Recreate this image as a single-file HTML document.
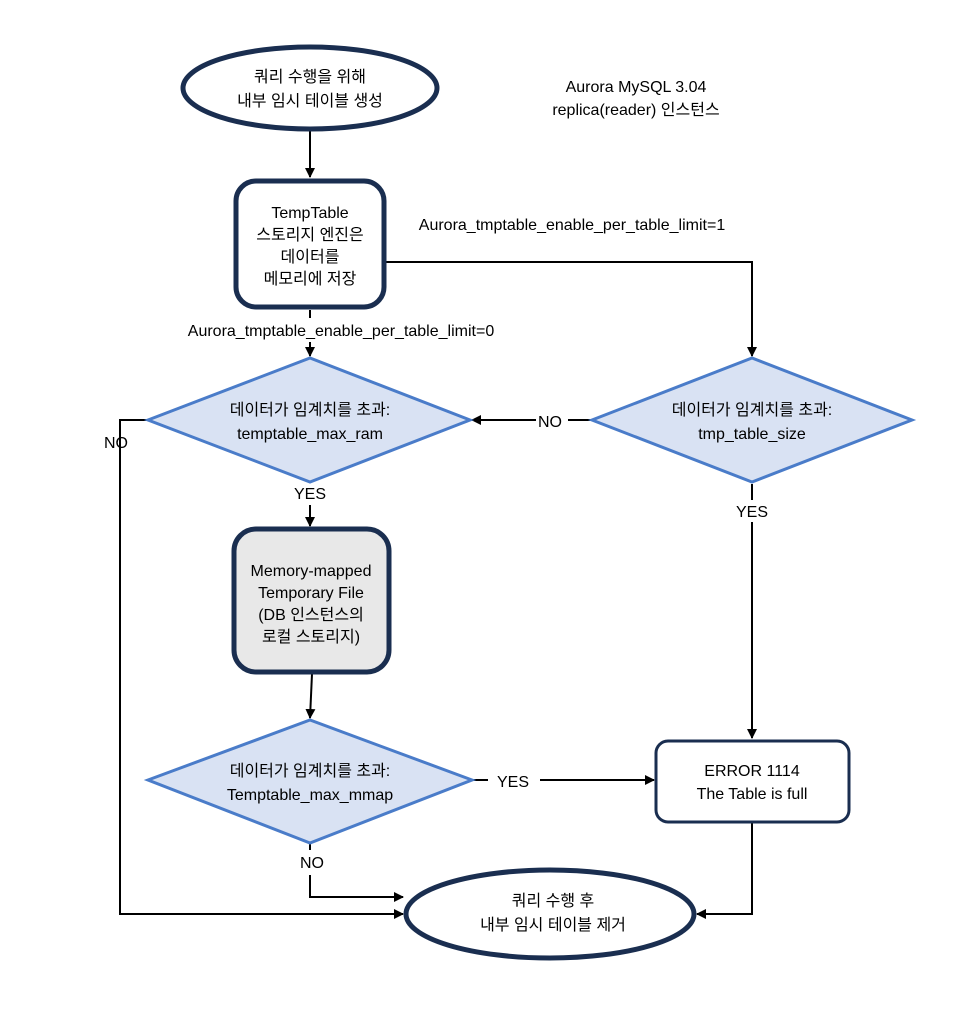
<!DOCTYPE html>
<html><head><meta charset="utf-8"><style>
html,body{margin:0;padding:0;background:#fff;}
svg text{font-family:"Liberation Sans","Noto Sans CJK KR",sans-serif;font-size:16px;fill:#000;}
</style></head><body>
<svg width="965" height="1024" viewBox="0 0 965 1024" xmlns="http://www.w3.org/2000/svg">
<defs>
<marker id="a" markerWidth="10" markerHeight="10" refX="9" refY="5" orient="auto" markerUnits="userSpaceOnUse">
<path d="M0,0 L10,5 L0,10 z" fill="#000"/></marker>
</defs>
<g fill="none" stroke="#000" stroke-width="2">
<line x1="310" y1="131" x2="310" y2="177" marker-end="url(#a)"/>
<polyline points="385,262 752,262 752,356" marker-end="url(#a)"/>
<line x1="310" y1="310" x2="310" y2="318"/>
<line x1="310" y1="342" x2="310" y2="356" marker-end="url(#a)"/>
<line x1="592" y1="420" x2="568" y2="420"/>
<line x1="536" y1="420" x2="472" y2="420" marker-end="url(#a)"/>
<polyline points="148,420 120,420 120,914 403,914" marker-end="url(#a)"/>
<line x1="310" y1="505" x2="310" y2="526" marker-end="url(#a)"/>
<line x1="312" y1="674" x2="310" y2="718" marker-end="url(#a)"/>
<line x1="472" y1="780" x2="488" y2="780"/>
<line x1="540" y1="780" x2="654" y2="780" marker-end="url(#a)"/>
<line x1="752" y1="484" x2="752" y2="500"/>
<line x1="752" y1="522" x2="752" y2="738" marker-end="url(#a)"/>
<polyline points="752,822 752,914 697,914" marker-end="url(#a)"/>
<line x1="310" y1="843" x2="310" y2="850"/>
<polyline points="310,875 310,897 403,897" marker-end="url(#a)"/>
</g>
<ellipse cx="310" cy="88" rx="127" ry="41" fill="#fff" stroke="#1a2e50" stroke-width="5"/>
<rect x="236" y="181" width="148" height="126" rx="20" fill="#fff" stroke="#1a2e50" stroke-width="5"/>
<polygon points="148,420 310,358 470,420 310,482" fill="#d9e2f3" stroke="#4a7cc9" stroke-width="3"/>
<polygon points="592,420 752,358 912,420 752,482" fill="#d9e2f3" stroke="#4a7cc9" stroke-width="3"/>
<rect x="234" y="529" width="155" height="143" rx="22" fill="#e8e8e8" stroke="#1a2e50" stroke-width="5"/>
<polygon points="148,780 310,720 472,780 310,843" fill="#d9e2f3" stroke="#4a7cc9" stroke-width="3"/>
<rect x="656" y="741" width="193" height="81" rx="12" fill="#fff" stroke="#1a2e50" stroke-width="3"/>
<ellipse cx="550" cy="914" rx="144" ry="44" fill="#fff" stroke="#1a2e50" stroke-width="5"/>
<g text-anchor="middle">
<text x="310" y="82">쿼리 수행을 위해</text>
<text x="310" y="106">내부 임시 테이블 생성</text>
<text x="636" y="92">Aurora MySQL 3.04</text>
<text x="636" y="115">replica(reader) 인스턴스</text>
<text x="310" y="218">TempTable</text>
<text x="310" y="240">스토리지 엔진은</text>
<text x="310" y="262">데이터를</text>
<text x="310" y="284">메모리에 저장</text>
<text x="572" y="230">Aurora_tmptable_enable_per_table_limit=1</text>
<text x="341" y="336">Aurora_tmptable_enable_per_table_limit=0</text>
<text x="310" y="415">데이터가 임계치를 초과:</text>
<text x="310" y="439">temptable_max_ram</text>
<text x="752" y="415">데이터가 임계치를 초과:</text>
<text x="752" y="439">tmp_table_size</text>
<text x="550" y="427">NO</text>
<text x="116" y="448">NO</text>
<text x="310" y="499">YES</text>
<text x="752" y="517">YES</text>
<text x="311" y="576">Memory-mapped</text>
<text x="311" y="598">Temporary File</text>
<text x="311" y="620">(DB 인스턴스의</text>
<text x="311" y="642">로컬 스토리지)</text>
<text x="310" y="776">데이터가 임계치를 초과:</text>
<text x="310" y="800">Temptable_max_mmap</text>
<text x="513" y="787">YES</text>
<text x="752" y="776">ERROR 1114</text>
<text x="752" y="799">The Table is full</text>
<text x="312" y="868">NO</text>
<text x="553" y="906">쿼리 수행 후</text>
<text x="553" y="930">내부 임시 테이블 제거</text>
</g>
</svg>
</body></html>
